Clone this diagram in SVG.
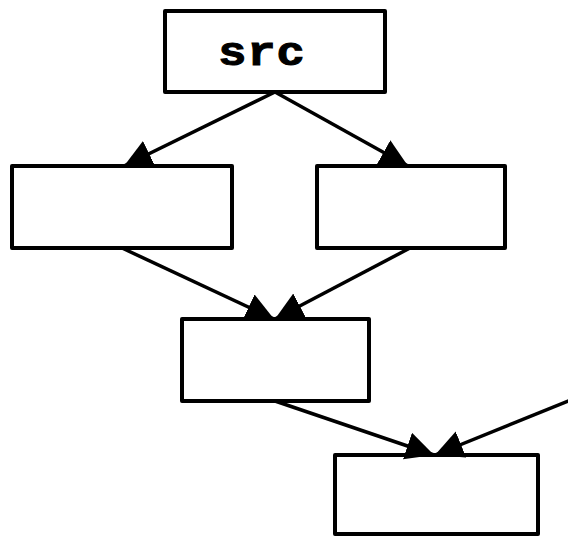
<svg xmlns="http://www.w3.org/2000/svg" width="568" height="536" viewBox="0 0 568 536">
  <style>
    .box { fill: #ffffff; stroke: #000000; stroke-width: 4; stroke-linejoin: round; }
    .edge { fill: none; stroke: #000000; stroke-width: 3.5; marker-end: url(#arrow); }
    .label { font-family: "Liberation Mono", "DejaVu Sans Mono", monospace; font-weight: bold; font-size: 47px; fill: #000000; stroke: #000000; stroke-width: 1.2; }
  </style>
  <defs>
    <marker id="arrow" markerUnits="userSpaceOnUse" markerWidth="30" markerHeight="30" refX="28" refY="14" orient="auto" viewBox="0 0 30 30">
      <path d="M0,0 L28,14 L0,28 z" fill="#000000"/>
    </marker>
  </defs>
  <rect width="568" height="536" fill="#ffffff"/>

  <g id="nodes">
    <g id="src">
      <rect class="box" x="165" y="11" width="220" height="81"/>
      <!-- label squashed a little vertically to keep a low x-height -->
      <text class="label" x="262" y="65" text-anchor="middle" letter-spacing="1" transform="translate(0,65) scale(1,0.88) translate(0,-65)">src</text>
    </g>
    <g id="left">
      <rect class="box" x="12" y="166" width="220" height="82"/>
    </g>
    <g id="right">
      <rect class="box" x="317" y="166" width="188" height="82"/>
    </g>
    <g id="middle">
      <rect class="box" x="182" y="319" width="187" height="82"/>
    </g>
    <g id="bottom">
      <rect class="box" x="335" y="455" width="203" height="79"/>
    </g>
  </g>

  <g id="edges">
    <path class="edge" d="M275,92 L124,166"/>
    <path class="edge" d="M275,92 L408,166"/>
    <path class="edge" d="M122,248 L274,319"/>
    <path class="edge" d="M410,248 L275,319"/>
    <path class="edge" d="M275,401 L434,455"/>
    <path class="edge" d="M620,380 L435,455"/>
  </g>
</svg>
